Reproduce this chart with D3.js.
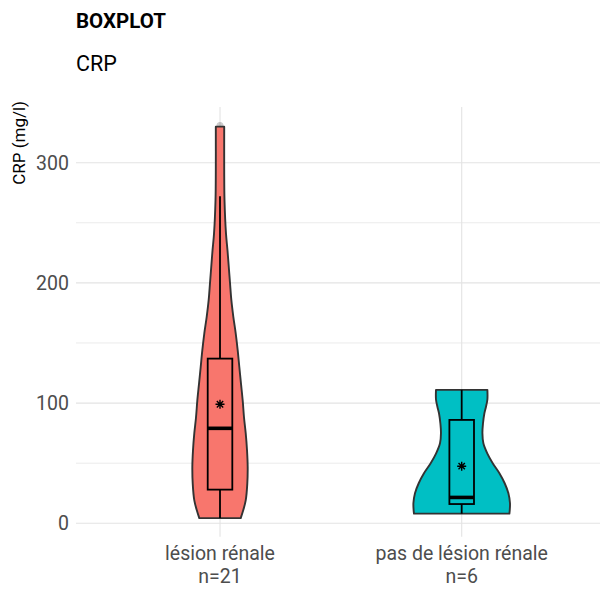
<!DOCTYPE html>
<html><head><meta charset="utf-8">
<script src="https://cdn.jsdelivr.net/npm/d3@7"></script>
<style>body{margin:0;background:#fff}svg{display:block}text{font-family:Roboto,"Liberation Sans",Arial,sans-serif}</style>
</head><body><svg id="c" width="600" height="593"></svg>
<script>
// ---- data ----
const categories = ["lésion rénale", "pas de lésion rénale"];
const counts = [21, 6];
const colors = ["#F8766D", "#00BFC4"];
const yTicks = [0, 100, 200, 300];
const yMinorTicks = [50, 150, 250];
// box statistics per group
const q1 = [28, 16];
const medians = [79, 21.5];
const q3 = [137, 86];
const whiskerLow = [4.3, 8];
const whiskerHigh = [272, 111];
const means = [99, 47.5];
const outliers = [[331], []];
// violin outline: values and relative density (max = 1)
const violinValues1 = [4.3, 11, 19, 33, 47, 61, 75, 88, 102, 116, 130, 144, 158, 172, 186, 200, 213, 227, 241, 269, 294, 330];
const violinDensity1 = [0.429, 0.482, 0.532, 0.565, 0.573, 0.559, 0.532, 0.497, 0.47, 0.435, 0.40, 0.366, 0.325, 0.275, 0.234, 0.207, 0.182, 0.155, 0.124, 0.093, 0.087, 0.087];
const violinValues2 = [8, 16.6, 25, 33.3, 41.6, 50, 58, 66.6, 75, 83, 91.5, 97, 103, 111];
const violinDensity2 = [0.988, 1.0, 0.967, 0.89, 0.781, 0.642, 0.532, 0.449, 0.429, 0.441, 0.47, 0.503, 0.532, 0.532];

(function () {
const violins = [
  violinValues1.map((v, i) => ({v, d: violinDensity1[i]})),
  violinValues2.map((v, i) => ({v, d: violinDensity2[i]}))
];

const svg = d3.select("#c");
const pLeft = 76, pTop = 107.1, pBottom = 536.8, pRight = 606.7;

const x = d3.scalePoint().domain(categories).range([75, pRight]).padding(0.6);
const y = d3.scaleLinear().domain([-11.25, 346.25]).range([pBottom, pTop]);
const w = d3.scaleLinear().domain([0, 1]).range([0, 48.3]);

// grid
const g = svg.append("g");
g.selectAll(".minor").data(yMinorTicks).join("line")
  .attr("x1", pLeft).attr("x2", 600).attr("y1", d => y(d)).attr("y2", d => y(d))
  .attr("stroke", "#EBEBEB").attr("stroke-width", 1);
g.selectAll(".major").data(yTicks).join("line")
  .attr("x1", pLeft).attr("x2", 600).attr("y1", d => y(d)).attr("y2", d => y(d))
  .attr("stroke", "#E3E3E3").attr("stroke-width", 1.1);
g.selectAll(".vmajor").data(categories).join("line")
  .attr("x1", d => x(d)).attr("x2", d => x(d)).attr("y1", pTop).attr("y2", pBottom)
  .attr("stroke", "#E3E3E3").attr("stroke-width", 1.1);

// y tick labels
svg.append("g").selectAll("text").data(yTicks).join("text")
  .attr("x", 69).attr("y", d => y(d)).attr("dy", "0.36em")
  .attr("text-anchor", "end").attr("font-size", 19.5).attr("fill", "#4D4D4D")
  .text(d => d);

// x labels (two lines)
svg.append("g").selectAll("text").data(categories).join("text")
  .attr("x", d => x(d)).attr("y", 559.5).attr("text-anchor", "middle")
  .attr("font-size", 19.5).attr("fill", "#4D4D4D").text(d => d);
svg.append("g").selectAll("text").data(categories).join("text")
  .attr("x", d => x(d)).attr("y", 582.5).attr("text-anchor", "middle")
  .attr("font-size", 19.5).attr("fill", "#4D4D4D").text((d, i) => "n=" + counts[i]);

// titles
svg.append("text").attr("x", 76).attr("y", 28).attr("font-size", 20.5).attr("font-weight", "bold")
  .attr("fill", "#000").text("BOXPLOT");
svg.append("text").attr("x", 76).attr("y", 71).attr("font-size", 21.5)
  .attr("fill", "#000").text("CRP");
svg.append("text").attr("transform", "translate(25,101) rotate(-90)").attr("text-anchor", "end")
  .attr("font-size", 17).attr("fill", "#000").text("CRP (mg/l)");

// outliers (under violin)
categories.forEach((c, i) => {
  svg.append("g").selectAll("circle").data(outliers[i]).join("circle")
    .attr("cx", x(c)).attr("cy", d => y(d)).attr("r", 3.5)
    .attr("fill", "#000").attr("fill-opacity", 0.2);
});

// violins
categories.forEach((c, i) => {
  const cx = x(c);
  const area = d3.area()
    .y(d => y(d.v)).x0(d => cx - w(d.d)).x1(d => cx + w(d.d))
    .curve(d3.curveCatmullRom);
  svg.append("path").datum(violins[i]).attr("d", area)
    .attr("fill", colors[i]).attr("stroke", "#333333").attr("stroke-width", 1.9)
    .attr("stroke-linejoin", "round");
});

// boxplots
const bw = 12.3;
categories.forEach((c, i) => {
  const cx = x(c);
  const b = svg.append("g");
  b.append("line").attr("x1", cx).attr("x2", cx).attr("y1", y(q3[i])).attr("y2", y(whiskerHigh[i]))
    .attr("stroke", "#000").attr("stroke-width", 1.8);
  b.append("line").attr("x1", cx).attr("x2", cx).attr("y1", y(q1[i])).attr("y2", y(whiskerLow[i]))
    .attr("stroke", "#000").attr("stroke-width", 1.8);
  b.append("rect").attr("x", cx - bw).attr("width", 2 * bw)
    .attr("y", y(q3[i])).attr("height", y(q1[i]) - y(q3[i]))
    .attr("fill", colors[i]).attr("stroke", "#000").attr("stroke-width", 1.8);
  b.append("line").attr("x1", cx - bw).attr("x2", cx + bw).attr("y1", y(medians[i])).attr("y2", y(medians[i]))
    .attr("stroke", "#000").attr("stroke-width", 3.6);
  // mean asterisk
  const my = y(means[i]), r = 4.5;
  const star = d3.range(4).map(k => {
    const a = k * Math.PI / 4;
    return `M${cx - r * Math.cos(a)},${my - r * Math.sin(a)}L${cx + r * Math.cos(a)},${my + r * Math.sin(a)}`;
  }).join("");
  b.append("path").attr("d", star).attr("stroke", "#000").attr("stroke-width", 1.4);
});
})();
</script></body></html>
